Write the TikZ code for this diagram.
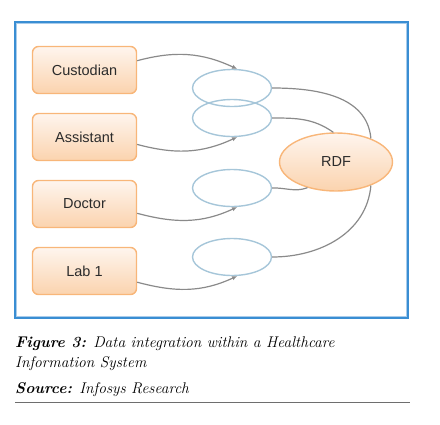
\documentclass[tikz,border=0pt]{standalone}
\usepackage{fontspec}
\newfontfamily\boxfont{Liberation Sans}
\definecolor{FrameBlue}{HTML}{3A8ED3}
\definecolor{FrameSoft}{HTML}{A9CCEB}
\definecolor{BoxEdge}{HTML}{F8B679}
\definecolor{BoxTop}{HTML}{FEF5EE}
\definecolor{BoxBottom}{HTML}{FBD3AE}
\definecolor{RingBlue}{HTML}{A6C6D9}
\definecolor{FlowGray}{HTML}{8A8A8A}
\definecolor{LabelGray}{HTML}{2B2B2B}
\usetikzlibrary{arrows.meta,positioning,shapes.geometric}

\begin{document}
\begin{tikzpicture}[
    x=1pt, y=-1pt,
    srcbox/.style={
      draw=BoxEdge,
      line width=1.4pt,
      rounded corners=6pt,
      top color=BoxTop,
      bottom color=BoxBottom,
      minimum width=104pt,
      minimum height=47pt,
      font=\boxfont\fontsize{14.5}{17}\selectfont,
      text=LabelGray
    },
    linkring/.style={
      ellipse,
      draw=RingBlue,
      line width=1.4pt,
      minimum width=79pt,
      minimum height=37pt
    },
    rdfnode/.style={
      ellipse,
      draw=BoxEdge,
      line width=1.4pt,
      top color=BoxTop,
      bottom color=BoxBottom,
      minimum width=113pt,
      minimum height=58pt,
      font=\boxfont\fontsize{14.5}{17}\selectfont,
      text=LabelGray
    },
    flow/.style={
      draw=FlowGray,
      line width=1.2pt
    },
    flowarrow/.style={
      flow,
      -{Latex[length=5pt,width=4.5pt]}
    }
  ]
  \useasboundingbox (0,0) rectangle (440,424);

  % frame
  \draw[FrameBlue, line width=2pt] (15,22) rectangle (408,318);
  \draw[FrameSoft, line width=0.8pt] (16.8,23.8) rectangle (406.2,316.2);

  % sources
  \node[srcbox] (cust) at (84.5,70) {Custodian};
  \node[srcbox] (asst) at (84.5,137) {Assistant};
  \node[srcbox] (doc) at (84.5,204) {Doctor};
  \node[srcbox] (lab) at (84.5,271) {Lab 1};

  % rings
  \node[linkring] (ringA) at (232,88) {};
  \node[linkring] (ringB) at (232,118) {};
  \node[linkring] (ringC) at (232,188) {};
  \node[linkring] (ringD) at (232,257) {};

  \node[rdfnode] (rdf) at (336,162) {RDF};

  \draw[flowarrow] (cust.10) to[out=15, in=155] (ringA.75);
  \draw[flowarrow] (asst.-8) to[out=-15, in=-155] (ringB.-75);
  \draw[flowarrow] (doc.-10) to[out=-15, in=-155] (ringC.-75);
  \draw[flowarrow] (lab.-12) to[out=-15, in=-155] (ringD.-75);

  \draw[flow] (ringA.east) to[out=0, in=95] (rdf.34);
  \draw[flow] (ringB.east) to[out=0, in=145] (rdf.95);
  \draw[flow] (ringC.east) to[out=2, in=200] (rdf.222);
  \draw[flow] (ringD.east) to[out=0, in=-95] (rdf.-34);

  % caption
  \node[anchor=base west, inner sep=0pt, align=left,
        font=\fontsize{15.5}{20}\selectfont\itshape] (cap) at (15,367)
    {\textbf{Figure 3:} Data integration within a Healthcare\\
     Information System};
  \node[anchor=base west, inner sep=0pt,
        font=\fontsize{15.5}{20}\selectfont\itshape] (src) at (15,393)
    {\textbf{Source:} Infosys Research};
  \draw[FlowGray!80!black, line width=1pt] (15,402) -- (410,402);
\end{tikzpicture}
\end{document}
